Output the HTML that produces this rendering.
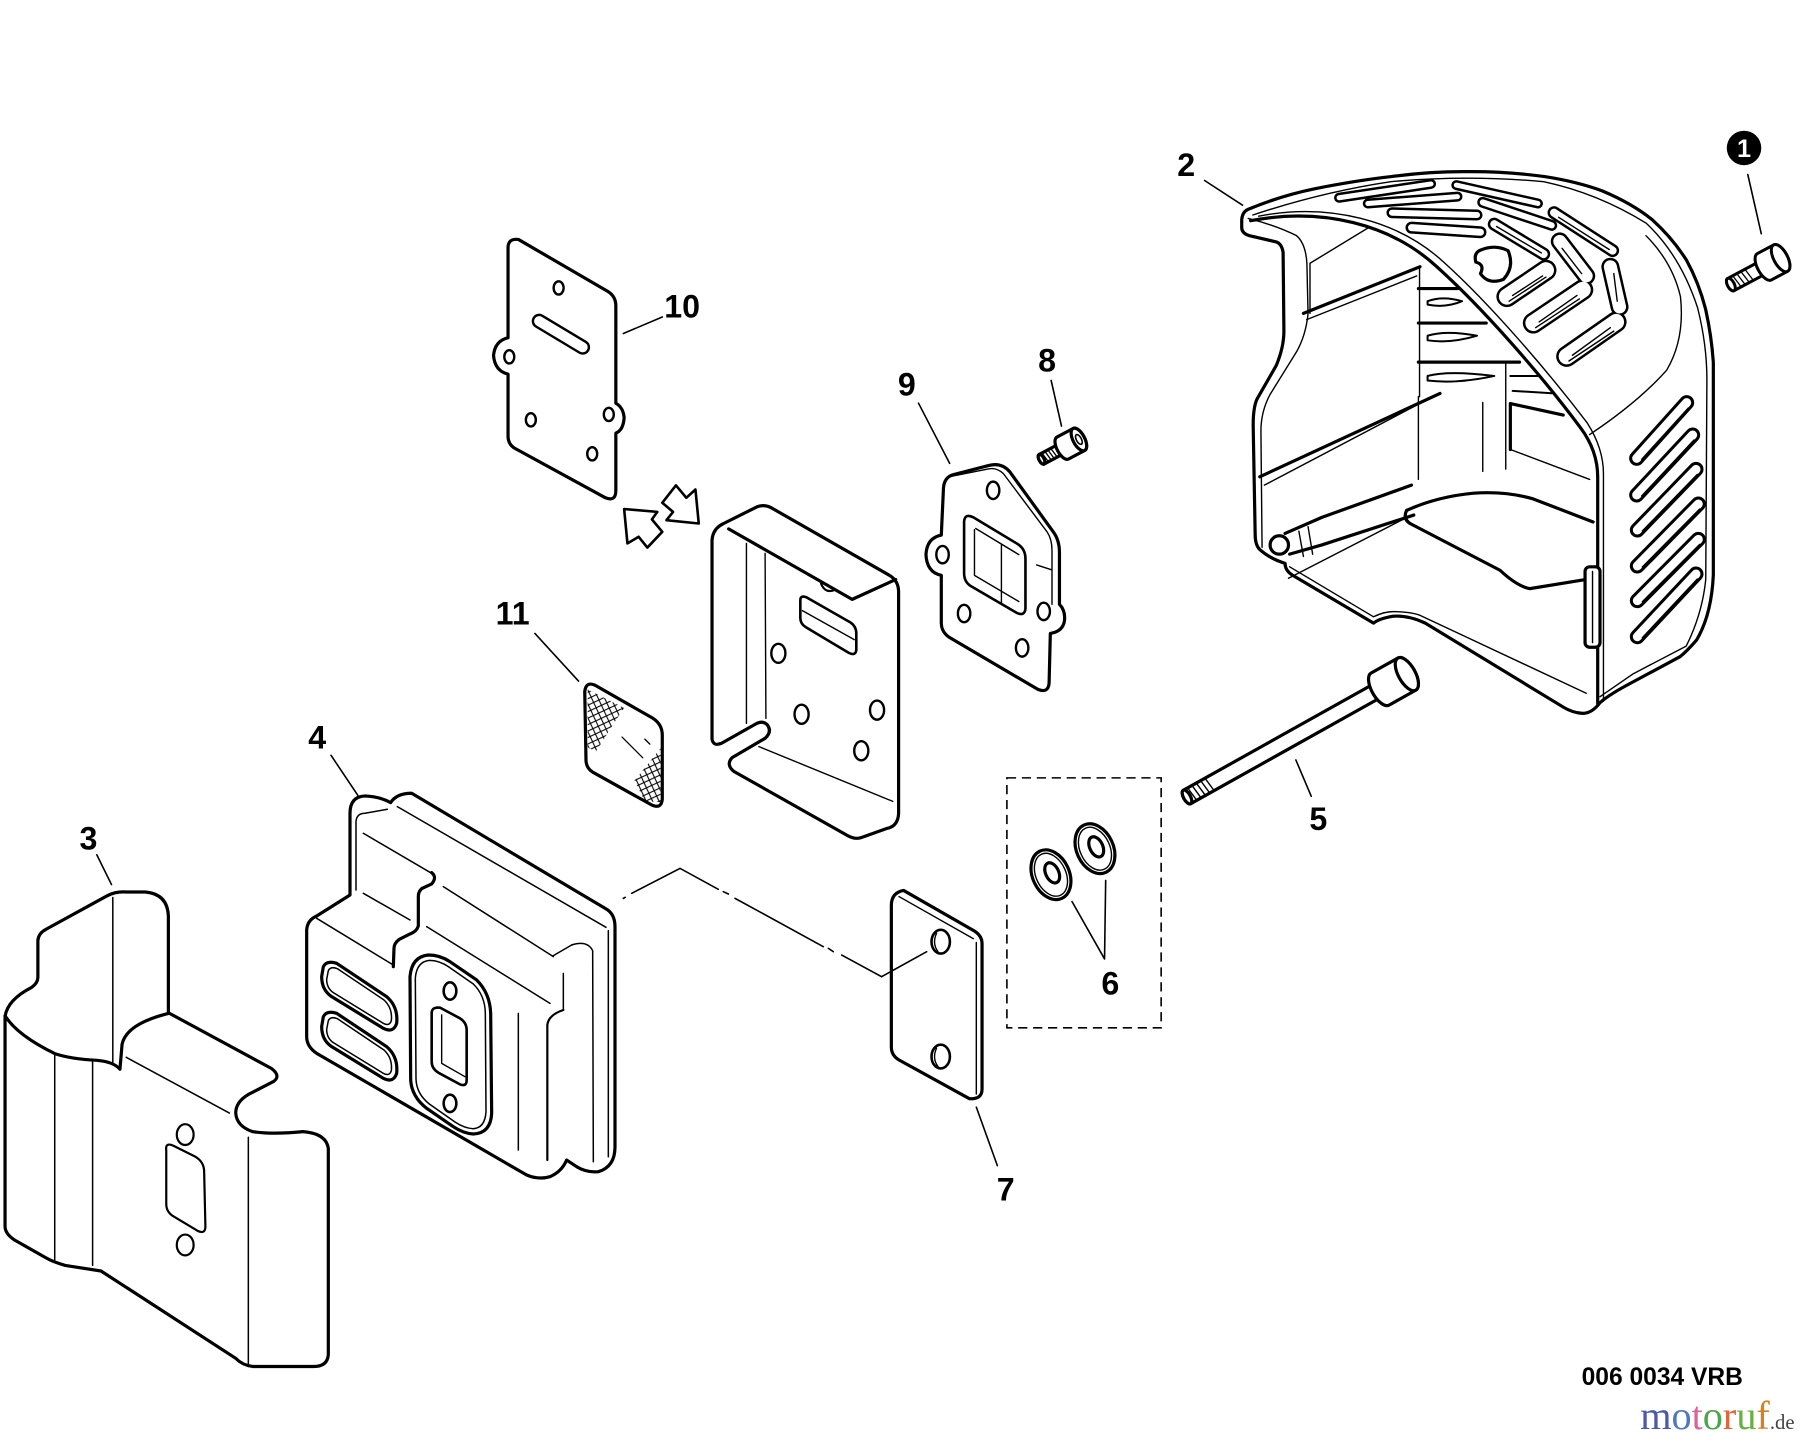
<!DOCTYPE html>
<html><head><meta charset="utf-8">
<style>
html,body{margin:0;padding:0;background:#fff;}
svg{display:block}
.v,.v *{vector-effect:non-scaling-stroke}
.t{font-family:"Liberation Sans",Arial,sans-serif;font-weight:bold;font-size:28px;fill:#000;text-anchor:middle}
</style></head><body>
<svg width="1800" height="1444" viewBox="0 0 1566 1256" preserveAspectRatio="none" xmlns="http://www.w3.org/2000/svg">
<defs>
<pattern id="hatch" patternUnits="userSpaceOnUse" width="20" height="20" patternTransform="rotate(20)">
<path d="M0,0 L20,20 M20,0 L0,20 M-5,15 L5,25 M15,-5 L25,5" stroke="#000" stroke-width="2.6" fill="none"/>
</pattern>
</defs>
<rect width="1566" height="1256" fill="#fff"/>

<!-- ===== Part 3 (zoom3 coords) ===== -->
<g class="v" transform="matrix(0.3662,0,0,0.3232,0,680.5)" fill="#fff" stroke="#000" stroke-width="3.2" stroke-linejoin="round" stroke-linecap="round">
 <path d="M12,630 Q18,585 75,552 Q90,540 90,525 L90,425 Q92,405 110,395 L255,305 Q275,293 300,295 L345,295 Q398,300 400,360 L400,620 L645,770 Q668,790 650,805 L590,840 Q560,860 560,890 Q562,925 600,940 Q650,948 720,940 Q775,945 780,985 L780,1540 Q778,1572 745,1572 L600,1572 Q575,1568 560,1550 L240,1315 L155,1300 Q125,1290 110,1280 L35,1232 Q12,1215 12,1195 Z"/>
 <path fill="none" d="M12,628 Q40,680 130,730 Q170,745 230,748 Q270,752 285,772 L290,705 Q300,650 400,622"/>
 <path fill="none" stroke-width="1.5" d="M130,735 L130,1285 M220,750 L220,1300 M268,310 L268,760 M590,955 L590,1572 M300,740 L545,890"/>
 <path stroke-width="2.2" d="M395,990 Q392,968 412,978 L465,1008 Q485,1022 485,1048 L488,1195 Q488,1218 468,1206 L412,1168 Q395,1156 395,1135 Z"/>
 <ellipse cx="440" cy="948" rx="20" ry="28" stroke-width="2.2"/>
 <ellipse cx="440" cy="1245" rx="20" ry="28" stroke-width="2.2"/>
</g>

<!-- ===== Part 4 muffler ===== -->
<g class="v" transform="matrix(0.29,0,0,0.29,261,678.4)" fill="#fff" stroke="#000" stroke-width="3.2" stroke-linejoin="round" stroke-linecap="round">
 <path d="M20,450 Q22,420 50,408 L150,345 L150,100 Q150,50 195,48 Q240,50 272,68 Q290,40 335,40 L915,385 Q945,400 945,440 L945,1100 Q945,1160 895,1175 Q860,1178 830,1160 L800,1140 Q785,1175 750,1190 Q715,1200 680,1185 L50,820 Q20,800 20,770 Z"/>
 <path fill="none" stroke-width="1.5" d="M168,330 L168,125 Q170,100 195,100 L262,88 M292,80 L918,442 M925,452 L925,1130 M815,495 Q862,480 878,512 L880,1145"/>
 <path fill="none" stroke-width="1.5" d="M190,160 L395,280 M50,415 L280,555 M190,340 L330,420 M430,320 L760,530 M760,527 L815,495 M380,440 L750,670 M655,700 L655,1110 M790,580 L790,690"/>
 <path fill="none" d="M395,278 Q412,292 395,312 L365,326 Q355,335 355,350 L355,438 Q350,455 330,462 L298,478 Q282,490 282,505 L280,560"/>
 <path fill="none" stroke-width="2.2" d="M790,690 Q745,705 742,735 L742,1140"/>
 <path d="M70,560 Q80,540 110,550 L260,650 Q295,680 290,730 Q280,760 250,745 L95,650 Q65,630 65,590 Z"/>
 <path fill="none" stroke-width="1.5" d="M85,572 Q92,558 112,566 L252,660 Q278,684 274,722 Q268,740 250,730 L100,638 Q80,624 80,598 Z"/>
 <path d="M70,710 Q80,690 110,700 L260,800 Q295,830 290,880 Q280,910 250,895 L95,800 Q65,780 65,740 Z"/>
 <path fill="none" stroke-width="1.5" d="M85,722 Q92,708 112,716 L252,810 Q278,834 274,872 Q268,890 250,880 L100,788 Q80,774 80,748 Z"/>
 <path d="M330,590 Q335,530 385,525 Q420,525 450,545 L530,600 Q570,640 572,700 L575,1000 Q572,1060 520,1062 Q490,1060 460,1040 L380,985 Q335,950 332,900 Z"/>
 <path fill="none" stroke-width="1.5" d="M346,594 Q350,545 388,541 Q418,541 445,560 L520,612 Q555,646 556,700 L558,995 Q555,1045 518,1046 Q492,1044 465,1026 L388,972 Q350,942 348,898 Z"/>
 <ellipse cx="450" cy="633" rx="19" ry="26" stroke-width="2.6"/>
 <ellipse cx="450" cy="970" rx="19" ry="26" stroke-width="2.6"/>
 <path stroke-width="2.6" d="M395,700 Q395,680 420,683 L480,715 Q500,728 500,750 L500,900 Q500,922 478,912 L415,878 Q395,866 395,845 Z"/>
 <path fill="none" stroke-width="1.4" d="M425,705 L425,850 L495,890"/>
</g>

<!-- ===== Parts 10, 11, box, 9, bolt 8 (zoom2 coords) ===== -->
<g class="v" transform="matrix(0.3607,0,0,0.3607,391.5,174)" fill="#fff" stroke="#000" stroke-width="3.2" stroke-linejoin="round" stroke-linecap="round">
 <path d="M140,115 Q140,92 165,95 L380,220 Q400,232 400,255 L400,490 Q418,500 420,525 Q418,555 400,562 L400,700 Q400,728 375,718 L155,598 Q140,588 140,570 L140,420 Q108,412 105,375 Q108,340 140,332 Z"/>
 <ellipse cx="262" cy="212" rx="12" ry="16" stroke-width="2.4"/>
 <ellipse cx="143" cy="378" rx="12" ry="16" stroke-width="2.4"/>
 <ellipse cx="195" cy="530" rx="12" ry="16" stroke-width="2.4"/>
 <ellipse cx="383" cy="517" rx="12" ry="16" stroke-width="2.4"/>
 <ellipse cx="343" cy="612" rx="12" ry="16" stroke-width="2.4"/>
 <path stroke-width="2.4" d="M222.7,279.1 L327.7,342.1 A15,15 0 0 1 312.3,367.9 L207.3,304.9 A15,15 0 0 1 222.7,279.1 Z"/>
 <path stroke-width="2.6" d="M420,745 L500,752 L487,770 L512,800 L476,838 L455,812 L428,828 Z"/>
 <path stroke-width="2.6" d="M600,780 L522,772 L538,752 L512,730 L545,688 L570,718 L592,698 Z"/>
 <path d="M325,1185 Q328,1160 350,1170 L490,1250 Q512,1265 512,1290 L512,1445 Q510,1470 485,1458 L345,1380 Q328,1370 328,1350 Z"/>
 <path fill="url(#hatch)" stroke="none" d="M332,1180 L420,1225 L395,1262 L352,1330 L332,1320 Z"/>
 <path fill="url(#hatch)" stroke="none" d="M445,1400 L508,1322 L508,1452 L470,1450 Z"/>
 <path fill="none" stroke-width="1.3" d="M415,1295 L465,1345 M470,1300 L482,1312"/>
 <path d="M632,1300 L632,820 Q634,792 660,780 L740,740 Q760,732 780,745 L1060,905 Q1082,918 1082,945 L1082,1480 Q1080,1510 1055,1515 L990,1538 Q975,1542 958,1532 L685,1378 Q665,1362 680,1345 L760,1298 Q778,1282 765,1265 Q755,1255 740,1262 L655,1310 Q635,1318 632,1300 Z"/>
 <path fill="none" d="M672,793 L970,963 L1075,915"/>
 <path fill="none" stroke-width="1.4" d="M715,828 L715,1262 M760,852 L762,1250 M745,1318 L1068,1450"/>
 <path stroke-width="2.6" d="M845,965 Q845,952 860,958 L965,1018 Q980,1028 980,1045 L980,1085 Q978,1100 962,1092 L858,1030 Q845,1022 845,1008 Z"/>
 <path fill="none" stroke-width="1.4" d="M850,990 L975,1060"/>
 <path fill="none" stroke-width="2.2" d="M895,925 Q905,950 928,940"/>
 <ellipse cx="792" cy="1093" rx="17" ry="23" stroke-width="2.4"/>
 <ellipse cx="848" cy="1240" rx="17" ry="23" stroke-width="2.4"/>
 <ellipse cx="1030" cy="1230" rx="17" ry="23" stroke-width="2.4"/>
 <ellipse cx="992" cy="1328" rx="17" ry="23" stroke-width="2.4"/>
 <path d="M1190,700 Q1190,668 1215,662 L1300,640 Q1330,632 1350,655 L1455,800 Q1470,820 1470,850 L1470,975 Q1485,990 1482,1015 Q1478,1040 1448,1045 L1445,1165 Q1443,1190 1418,1180 L1205,1055 Q1185,1042 1185,1020 L1185,905 Q1150,898 1148,855 Q1150,815 1185,808 Z"/>
 <path fill="none" stroke-width="1.4" d="M1200,668 L1300,648 Q1320,645 1335,660 L1440,800 Q1452,818 1452,845 L1452,975 M1415,880 L1452,892"/>
 <ellipse cx="1310" cy="700" rx="15" ry="21" stroke-width="2.4"/>
 <ellipse cx="1188" cy="855" rx="15" ry="21" stroke-width="2.4"/>
 <ellipse cx="1240" cy="997" rx="15" ry="21" stroke-width="2.4"/>
 <ellipse cx="1432" cy="992" rx="15" ry="21" stroke-width="2.4"/>
 <ellipse cx="1380" cy="1080" rx="15" ry="21" stroke-width="2.4"/>
 <path stroke-width="2.6" d="M1240,775 Q1242,755 1262,765 L1370,830 Q1388,842 1388,865 L1388,985 Q1386,1005 1366,995 L1258,932 Q1240,922 1240,900 Z"/>
 <path fill="none" stroke-width="1.4" d="M1265,795 L1265,905 M1268,792 L1372,855 M1330,830 L1330,972 M1265,905 L1372,968"/>
 <g transform="translate(1478,598) rotate(-28)">
  <path d="M0,-13 L-58,-13 A6,13 0 0 0 -58,13 L0,13 Z"/>
  <ellipse cx="-58" cy="0" rx="6" ry="13"/>
  <path fill="none" stroke-width="1.3" d="M-50,-13 L-46,13 M-42,-13 L-38,13 M-34,-13 L-30,13 M-26,-13 L-22,13"/>
  <path d="M0,-30 L44,-30 A14,30 0 0 1 44,30 L0,30 A14,30 0 0 1 0,-30 Z"/>
  <ellipse cx="44" cy="0" rx="14" ry="30"/>
  <ellipse cx="44" cy="0" rx="6" ry="13" stroke-width="1.6"/>
 </g>
</g>

<!-- ===== Part 7, washers 6, bolt 5 (zoom4 coords) ===== -->
<g class="v" transform="matrix(0.333,0,0,0.333,739.5,539.4)" fill="#fff" stroke="#000" stroke-width="3.2" stroke-linejoin="round" stroke-linecap="round">
 <path d="M108,745 Q108,712 140,706 L325,812 Q345,825 345,845 L345,1225 Q345,1252 312,1250 L130,1150 Q108,1138 108,1115 Z"/>
 <path fill="none" stroke-width="1.4" d="M128,722 L322,832 M330,842 L330,1238"/>
 <ellipse cx="237" cy="840" rx="24" ry="31" stroke-width="2.6"/>
 <path fill="none" stroke-width="1.4" d="M226,818 Q214,845 230,866"/>
 <ellipse cx="237" cy="1140" rx="24" ry="31" stroke-width="2.6"/>
 <path fill="none" stroke-width="1.4" d="M226,1118 Q214,1145 230,1166"/>
 <g transform="rotate(-25 525 665)">
  <ellipse cx="525" cy="665" rx="48" ry="68"/>
  <ellipse cx="525" cy="665" rx="39" ry="59" fill="none" stroke-width="1.4"/>
  <ellipse cx="530" cy="662" rx="17" ry="28"/>
 </g>
 <g transform="rotate(-25 640 597)">
  <ellipse cx="640" cy="597" rx="48" ry="68"/>
  <ellipse cx="640" cy="597" rx="39" ry="59" fill="none" stroke-width="1.4"/>
  <ellipse cx="645" cy="594" rx="17" ry="28"/>
 </g>
 <path fill="none" stroke-width="1.6" d="M580,735 L665,885 L668,680"/>
 <g transform="translate(1385,180) rotate(-29.2)">
  <path d="M0,-20 L-578,-20 A9,20 0 0 0 -578,20 L0,20 Z"/>
  <ellipse cx="-578" cy="0" rx="9" ry="20"/>
  <path fill="none" stroke-width="1.4" d="M-565,-20 L-560,20 M-552,-20 L-547,20 M-539,-20 L-534,20 M-526,-20 L-521,20 M-513,-20 L-508,20"/>
  <path d="M0,-48 L80,-48 A22,48 0 0 1 80,48 L0,48 A22,48 0 0 1 0,-48 Z"/>
  <ellipse cx="80" cy="0" rx="22" ry="48"/>
 </g>
</g>

<!-- ===== Part 2 cover (display coords) ===== -->
<g class="v" fill="#fff" stroke="#000" stroke-width="3.2" stroke-linejoin="round" stroke-linecap="round">
 <path d="M1080.3,191 Q1081,184 1086,182 Q1115,170 1143.7,164.2 Q1180,157 1210.4,153.6 Q1245,149 1277.1,149.3 Q1310,149 1343.8,153.6 Q1372,158 1393.9,166 Q1420,177 1437.2,190.9 Q1455,207 1467.3,226.4 Q1478,246 1483.9,269 Q1489,292 1490.6,315.2 L1490.6,500 Q1489,535 1476,556.7 Q1468,566 1461.6,571.2 L1421,593 Q1400,604 1392,611.2 Q1385,620.5 1377,620.5 Q1368,620 1360,615 L1240,542 Q1225,535 1212,536 Q1200,538 1195,542 L1124,500 Q1118,496 1118,490 Q1105,486 1096,478 Q1092,474 1092,465 L1090.3,372 Q1090,355 1093.6,347.1 L1110.3,318 Q1117,302 1117,288 L1116.3,219.3 Q1115,212 1110.3,210.4 L1087,205 Q1080.3,203 1080.3,198 Z"/>
 <g fill="none">
  <path stroke-width="1.4" d="M1090,187 Q1150,167 1210,158 Q1277,152 1343,158 Q1390,168 1432,194 Q1462,222 1477,268 Q1485,300 1485,330 L1484,504 Q1481,534 1467,562 L1421,586 L1392,606"/>
  <path stroke-width="1.4" d="M1122,493 L1195,536.5 Q1204,532 1212,532 Q1226,532 1235,535 L1380,603"/>
  <path stroke-width="1.4" d="M1086,190 Q1110,196 1128,205 Q1136,212 1137,229 L1138,273 Q1136,292 1128,306 L1105,343 Q1097,358 1097,375 L1098,476"/>
  <path d="M1088,192 C1150,180 1210,195 1250,232 C1290,268 1340,325 1375,372 Q1390,392 1390,415 L1390,612"/>
  <path stroke-width="1.4" d="M1095,188 C1157,176 1217,192 1256,228 C1296,264 1346,322 1381,368 Q1395,390 1395,412 L1395,610"/>
  <path stroke-width="1.4" d="M1383,378 Q1425,350 1450,322 Q1466,295 1462,258 Q1455,228 1432,205"/>
  <path stroke-width="1.4" d="M1139.7,229 L1191.9,197.2 M1139.7,229 L1139.7,272.6 M1136.8,278 L1232.5,240 M1235,232 L1235,345 M1100,422 L1237,350 M1234,345 L1234,417 M1290,350 L1290,410 M1310,316 L1310,408 M1314,391 L1383,417 M1121,503 L1224,450 M1130,462 L1134,484 M1138,458 L1142,482"/>
  <path d="M1134,272.6 L1235.4,232 M1096,414.7 L1252.8,342.2"/>
  <path d="M1234,251 L1268,251 M1234,281 L1293,281 M1234,315 L1322,315"/>
  <path stroke-width="2" d="M1242,262 Q1255,257 1272,262 Q1258,268 1242,265 Z M1242,292 Q1258,287 1285,292 Q1262,299 1242,296 Z M1242,327 Q1260,322 1300,327 Q1268,334 1242,331 Z"/>
  <path stroke-width="2" d="M1314,327 L1338,327 M1316,340 L1350,342"/>
  <path d="M1314,351 L1360,361 M1314,351 L1314,391"/>
  <path d="M1223.7,444 Q1250,432 1282,429 Q1310,427 1334,434 L1386,454 M1228,456 L1305,496 Q1320,510 1331,512 L1380,504 M1223.7,444 Q1220,452 1228,456"/>
  <path d="M1118,464 L1150,450 L1228,422 M1122,482 L1150,474 L1230,448"/>
 </g>
 <circle cx="1113" cy="474" r="8"/>
 <rect x="1379" y="493" width="13" height="70" rx="4"/>
 <path fill="none" stroke-width="1.4" d="M1385.5,497 L1385.5,559"/>
 <g fill="none">
  <g stroke-width="10">
   <path d="M1165,172 L1245,160 M1190,177 L1268,171 M1267,161 L1338,177"/>
   <path stroke-width="11" d="M1211,185 L1285,187 M1290,176 L1350,196"/>
   <path stroke-width="12" d="M1228,198 L1288,202"/>
   <path stroke-width="13" d="M1300,195 L1343,221 M1352,185 L1403,218"/>
   <path stroke-width="18" d="M1357,210 L1380,240 M1401,232 L1409,267"/>
   <path stroke-width="21" d="M1311,258 L1345,235 M1334,281 L1377,252 M1363,310 L1406,280"/>
  </g>
  <g stroke="#fff" stroke-width="5">
   <path d="M1165,172 L1245,160 M1190,177 L1268,171 M1267,161 L1338,177"/>
   <path stroke-width="6" d="M1211,185 L1285,187 M1290,176 L1350,196"/>
   <path stroke-width="7" d="M1228,198 L1288,202"/>
   <path stroke-width="8" d="M1300,195 L1343,221 M1352,185 L1403,218"/>
   <path stroke-width="13" d="M1357,210 L1380,240 M1401,232 L1409,267"/>
   <path stroke-width="16" d="M1311,258 L1345,235 M1334,281 L1377,252 M1363,310 L1406,280"/>
  </g>
  <path stroke-width="1.4" d="M1302,197 L1341,220 M1356,189 L1400,217 M1359,216 L1376,238 M1404,238 L1407,262 M1316,257 L1342,240 M1313,262 L1345,241 M1339,280 L1372,257 M1336,285 L1374,260 M1368,309 L1401,285 M1365,314 L1404,288"/>
 </g>
 <path d="M1287,218 Q1300,212 1312,218 Q1318,232 1308,243 Q1295,248 1288,238 Q1292,230 1284,228 Q1282,221 1287,218 Z"/>
</g>
<g class="v" transform="matrix(0.29,0,0,0.29,1305,330.5)" fill="none" stroke-linecap="round">
 <g stroke="#000" stroke-width="15">
  <path d="M410,235 L560,68 M410,345 L578,165 M412,450 L588,268 M412,558 L595,372 M412,662 L595,478 M412,770 L588,582"/>
 </g>
 <g stroke="#fff" stroke-width="9">
  <path d="M410,235 L560,68 M410,345 L578,165 M412,450 L588,268 M412,558 L595,372 M412,662 L595,478 M412,770 L588,582"/>
 </g>
 <g stroke="#000" stroke-width="1.4">
  <path d="M425,238 L565,84 M425,348 L582,180 M427,453 L592,283 M427,561 L599,387 M427,665 L599,493 M427,773 L592,597"/>
 </g>
</g>
<g class="v" transform="translate(1535,232) rotate(-28)" fill="#fff" stroke="#000" stroke-width="3" stroke-linejoin="round">
 <path d="M0,-6 L-33,-6 A3,6 0 0 0 -33,6 L0,6 Z"/>
 <ellipse cx="-33" cy="0" rx="3" ry="6"/>
 <path fill="none" stroke-width="1.3" d="M-28,-6 L-26,6 M-24,-6 L-22,6 M-20,-6 L-18,6 M-16,-6 L-14,6"/>
 <path d="M0,-13 L16,-13 A6,13 0 0 1 16,13 L0,13 A6,13 0 0 1 0,-13 Z"/>
 <ellipse cx="16" cy="0" rx="6" ry="13"/>
</g>

<!-- ===== leaders ===== -->
<g class="v" fill="none" stroke="#000" stroke-width="1.6" stroke-linecap="round">
 <path d="M1520.6,151.8 L1532.3,203.3 M1048,157 L1081,178.5 M542.3,290.1 L576.2,275.7 M914.5,330.9 L923.5,370.6 M799.1,350.7 L826.2,403 M465.4,551 L503.3,592.4 M288,657 L311.3,691.8 M84.2,743.5 L97,769.4 M1127.4,661 L1140.8,692.6 M849.4,963 L867.7,1013.9"/>
 <path d="M542.3,781.4 L544,780.5 M549.6,777 L591.6,755.3 L624.9,773.5 M629.3,775.6 L633.7,777.6 M639.5,781.4 L716.3,823.4 M720.7,824.9 L725,827.8 M732.3,830.7 L767,849.5 L806.2,827.8"/>
</g>
<rect x="876" y="676.6" width="134.2" height="217.4" fill="none" stroke="#000" stroke-width="1.4" stroke-dasharray="8 5"/>

<!-- ===== labels ===== -->
<circle cx="1517.3" cy="128.7" r="15" fill="#000"/>
<text x="1517.3" y="136.5" class="t" style="font-size:22px;fill:#fff">1</text>
<text x="1032" y="153" class="t">2</text>
<text x="593.5" y="276" class="t">10</text>
<text x="911" y="323" class="t">8</text>
<text x="789" y="344" class="t">9</text>
<text x="446" y="543" class="t">11</text>
<text x="276" y="651" class="t">4</text>
<text x="77" y="739" class="t">3</text>
<text x="1147" y="722" class="t">5</text>
<text x="966" y="865" class="t">6</text>
<text x="875" y="1044" class="t">7</text>
<text x="1376" y="1204.7" style="font-family:'Liberation Sans',Arial,sans-serif;font-weight:bold;font-size:21.4px;fill:#000">006 0034 VRB</text>
<text x="1427" y="1243" style="font-family:'Liberation Serif','Times New Roman',serif;font-size:35px"><tspan fill="#4b5aa8">m</tspan><tspan fill="#4f78c0">o</tspan><tspan fill="#e0609a">t</tspan><tspan fill="#4ca54c">o</tspan><tspan fill="#e0663a">r</tspan><tspan fill="#6aae44">u</tspan><tspan fill="#d88020">f</tspan><tspan fill="#444" style="font-size:18px">.de</tspan></text>
</svg>
</body></html>
